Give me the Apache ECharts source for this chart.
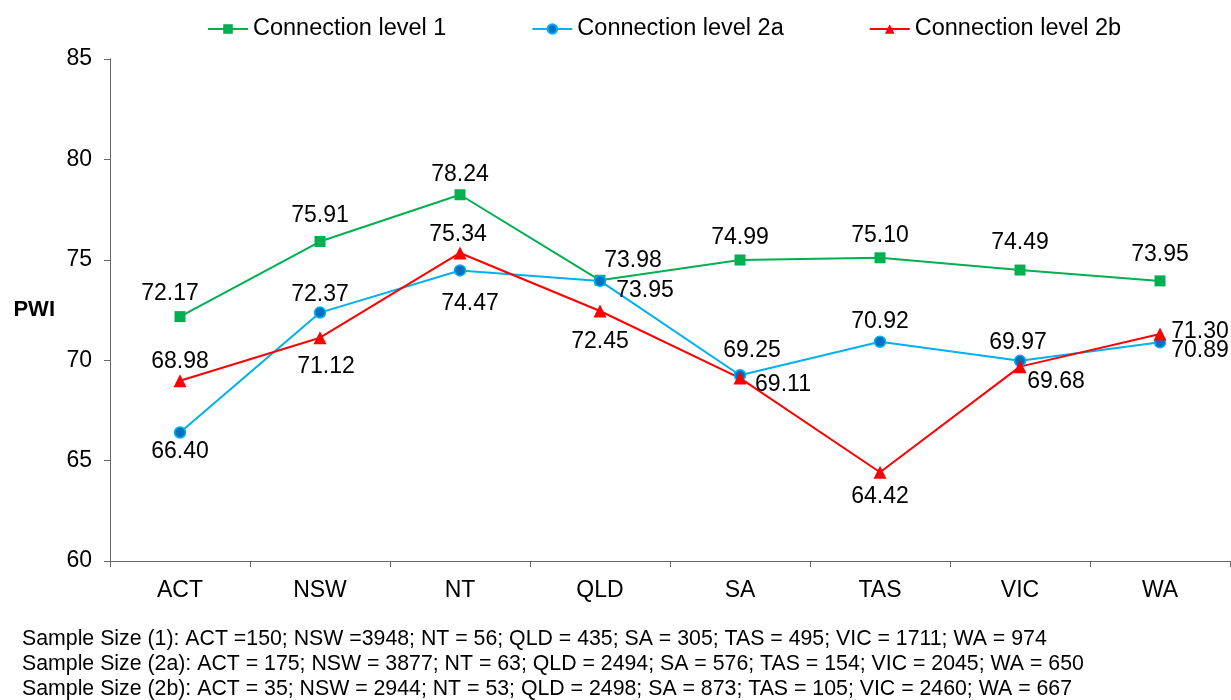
<!DOCTYPE html>
<html>
<head>
<meta charset="utf-8">
<script src="https://cdn.jsdelivr.net/npm/echarts@6/dist/echarts.min.js"></script>
<style>
html,body{margin:0;padding:0;background:#fff;}
#chart{width:1231px;height:700px;}
</style>
</head>
<body>
<div id="chart"></div>
<script>
var categories = ['ACT', 'NSW', 'NT', 'QLD', 'SA', 'TAS', 'VIC', 'WA'];
var level1 = [72.17, 75.91, 78.24, 73.98, 74.99, 75.10, 74.49, 73.95];
var level2a = [66.40, 72.37, 74.47, 73.95, 69.25, 70.92, 69.97, 70.89];
var level2b = [68.98, 71.12, 75.34, 72.45, 69.11, 64.42, 69.68, 71.30];
var seriesNames = ['Connection level 1', 'Connection level 2a', 'Connection level 2b'];
var yTicks = [60, 65, 70, 75, 80, 85];
var footerLines = [
  'Sample Size (1): ACT =150; NSW =3948; NT = 56; QLD = 435; SA = 305; TAS = 495; VIC = 1711; WA = 974',
  'Sample Size (2a): ACT = 175; NSW = 3877; NT = 63; QLD = 2494; SA = 576; TAS = 154; VIC = 2045; WA = 650',
  'Sample Size (2b): ACT = 35; NSW = 2944; NT = 53; QLD = 2498; SA = 873; TAS = 105; VIC = 2460; WA = 667'
];

// label offsets (style only) relative to each marker centre
var off1 = [[-10,-23],[0,-26],[0,-20],[33,-20],[0,-22],[0,-22],[0,-27],[0,-26]];
var off2a = [[0,19],[0,-18],[10,33],[45,10],[12,-25],[0,-20],[-2,-18],[40,8]];
var off2b = [[0,-19],[6,29],[-2,-18],[0,31],[43,7],[0,24],[36,15],[40,-2]];

var FONT = 'Liberation Sans, Arial, sans-serif';

function buildData(values, offsets) {
  return values.map(function (v, i) {
    return {
      value: v,
      label: { offset: offsets[i] }
    };
  });
}

var labelBase = {
  show: true,
  position: 'inside',
  color: '#000',
  fontSize: 23,
  fontFamily: FONT,
  formatter: function (p) { return p.value.toFixed(2); }
};

var chart = echarts.init(document.getElementById('chart'), null, { renderer: 'canvas' });

var option = {
  backgroundColor: '#fff',
  animation: false,
  textStyle: { fontFamily: FONT },
  legend: {
    top: 12,
    left: 202,
    itemWidth: 40,
    itemHeight: 12,
    itemGap: 85,
    textStyle: { fontSize: 23.5, color: '#000', fontFamily: FONT },
    data: seriesNames
  },
  grid: { left: 110, right: 1, top: 59, bottom: 139, containLabel: false },
  xAxis: {
    type: 'category',
    data: categories,
    boundaryGap: true,
    axisLine: { lineStyle: { color: '#666', width: 1 } },
    axisTick: { show: true, alignWithLabel: false, length: 6, lineStyle: { color: '#666' } },
    axisLabel: { color: '#000', fontSize: 23, fontFamily: FONT, margin: 18 },
    splitLine: { show: false }
  },
  yAxis: {
    type: 'value',
    min: yTicks[0],
    max: yTicks[yTicks.length - 1],
    interval: 5,
    name: 'PWI',
    nameLocation: 'middle',
    nameRotate: 0,
    nameGap: 55,
    nameTextStyle: { fontSize: 22, fontWeight: 'bold', color: '#000', fontFamily: FONT },
    axisLine: { show: true, lineStyle: { color: '#666', width: 1 } },
    axisTick: { show: true, length: 6, lineStyle: { color: '#666' } },
    axisLabel: { color: '#000', fontSize: 23, fontFamily: FONT, margin: 18 },
    splitLine: { show: false }
  },
  series: [
    {
      name: seriesNames[0],
      type: 'line',
      data: buildData(level1, off1),
      symbol: 'rect',
      symbolSize: 11,
      color: '#00B050',
      lineStyle: { color: '#00B050', width: 2 },
      itemStyle: { color: '#00B050' },
      label: labelBase
    },
    {
      name: seriesNames[1],
      type: 'line',
      data: buildData(level2a, off2a),
      symbol: 'circle',
      symbolSize: 11,
      color: '#00B0F0',
      lineStyle: { color: '#00B0F0', width: 2 },
      itemStyle: { color: '#0070C0', borderColor: '#00B0F0', borderWidth: 1.5 },
      label: labelBase
    },
    {
      name: seriesNames[2],
      type: 'line',
      data: buildData(level2b, off2b),
      symbol: 'triangle',
      symbolSize: 13,
      color: '#FF0000',
      lineStyle: { color: '#FF0000', width: 2 },
      itemStyle: { color: '#FF0000' },
      label: labelBase
    }
  ],
  graphic: footerLines.map(function (t, i) {
    return {
      type: 'text',
      left: 22,
      top: 629 + i * 25,
      style: { text: t, fontSize: 21.3, fontFamily: FONT, fill: '#000' }
    };
  })
};

chart.setOption(option);
</script>
</body>
</html>
